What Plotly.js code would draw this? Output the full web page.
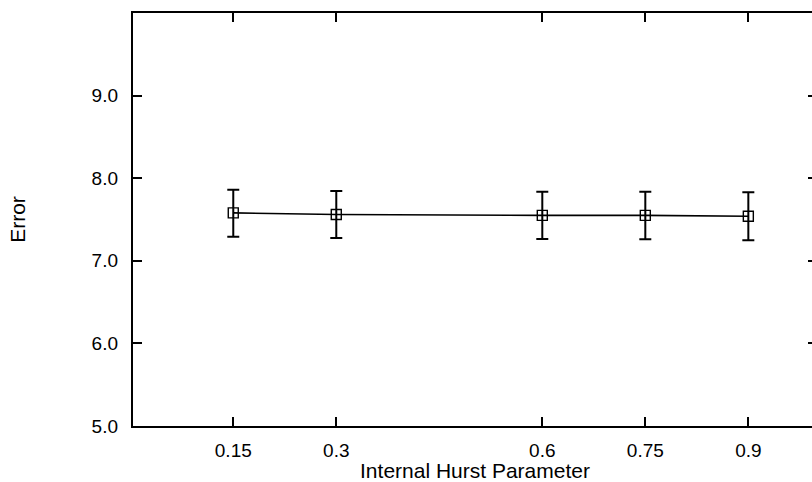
<!DOCTYPE html>
<html>
<head>
<meta charset="utf-8">
<script src="https://cdn.plot.ly/plotly-3.0.1.min.js"></script>
<style>
html,body{margin:0;padding:0;overflow:hidden;background:#fff;}
#chart{width:822px;height:482px;}
</style>
</head>
<body>
<div id="chart"></div>
<script>
const hurst = [0.15, 0.3, 0.6, 0.75, 0.9];
const errorMean = [7.58, 7.56, 7.55, 7.55, 7.54];
const errPlus = [0.28, 0.285, 0.285, 0.287, 0.29];
const errMinus = [0.29, 0.285, 0.285, 0.29, 0.29];
const xTickVals = [0.15, 0.3, 0.6, 0.75, 0.9];
const xTickText = ['0.15', '0.3', '0.6', '0.75', '0.9'];
const yTickVals = [5, 6, 7, 8, 9];
const yTickText = ['5.0', '6.0', '7.0', '8.0', '9.0'];

const trace = {
  x: hurst,
  y: errorMean,
  type: 'scatter',
  mode: 'lines+markers',
  line: {color: '#000', width: 1.6},
  marker: {symbol: 'square-open', size: 10, color: '#000', line: {width: 1.4, color: '#000'}},
  error_y: {type: 'data', symmetric: false, array: errPlus, arrayminus: errMinus,
            color: '#000', thickness: 2, width: 6},
  showlegend: false,
  hoverinfo: 'skip'
};

const fam = '"Liberation Sans", Arial, Helvetica, sans-serif';
const tickFont = {family: fam, size: 19, color: '#000'};
const titleFont = {family: fam, size: 21, color: '#000'};

const layout = {
  width: 822, height: 482,
  margin: {l: 133, r: 5, t: 13, b: 56},
  paper_bgcolor: '#fff', plot_bgcolor: '#fff',
  font: tickFont,
  xaxis: {
    range: [0.004, 1.0], tickvals: xTickVals, ticktext: xTickText,
    ticks: 'inside', ticklen: 9, tickwidth: 2, tickcolor: '#000',
    showline: true, linewidth: 2.2, linecolor: '#000', mirror: 'ticks',
    showgrid: false, zeroline: false, automargin: false,
    tickfont: tickFont, ticklabelstandoff: 6,
    title: {text: 'Internal Hurst Parameter', font: titleFont, standoff: 0}
  },
  yaxis: {
    range: [5, 10], tickvals: yTickVals, ticktext: yTickText,
    ticks: 'inside', ticklen: 9, tickwidth: 2, tickcolor: '#000',
    showline: true, linewidth: 2.2, linecolor: '#000', mirror: 'ticks',
    showgrid: false, zeroline: false, automargin: false,
    tickfont: tickFont, ticklabelstandoff: 9,
    title: {text: 'Error', font: titleFont, standoff: 60}
  }
};

Plotly.newPlot('chart', [trace], layout, {staticPlot: true, displayModeBar: false});
</script>
</body>
</html>
